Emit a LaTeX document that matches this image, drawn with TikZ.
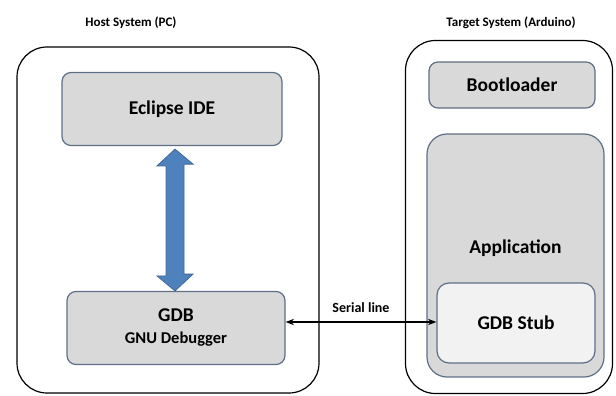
\documentclass[tikz,border=0pt]{standalone}
\usepackage{fontspec}
\setmainfont{Carlito}
\usetikzlibrary{positioning,arrows.meta}

\definecolor{boxgray}{HTML}{D9D9D9}
\definecolor{boxedge}{HTML}{5F6F85}
\definecolor{stubfill}{HTML}{F2F2F2}
\definecolor{arrowblue}{HTML}{4F81BD}
\definecolor{arrowedge}{HTML}{41689A}

\tikzset{
  system/.style={draw=black,line width=1.2pt,rounded corners=30pt,minimum width=#1},
  unit/.style={draw=boxedge,fill=boxgray,line width=1.2pt,rounded corners=9pt,font=\bfseries\fontsize{19.5}{22}\selectfont,align=center},
  title/.style={font=\bfseries\fontsize{13}{15}\selectfont}
}

\begin{document}
\begin{tikzpicture}[x=1pt,y=-1pt,>=Stealth,semithick]
  \useasboundingbox (0,0) rectangle (616,396);
  % host side
  \node[system=302pt,minimum height=346pt] (host) at (168,220) {};
  \node[title] (hosttitle) at (131,23) {Host System (PC)};
  \node[unit,minimum width=220pt,minimum height=73pt] (ide) at (172,109) {Eclipse IDE};
  \node[unit,minimum width=218pt,minimum height=73pt,inner sep=0pt] (gdb) at (176,328) {GDB\\[0pt]{\fontsize{16.5}{19}\selectfont GNU Debugger}};
  % target side
  \node[system=207pt,minimum height=353pt] (target) at (509,217) {};
  \node[title] (targettitle) at (511,23) {Target System (Arduino)};
  \node[unit,minimum width=166pt,minimum height=46pt] (boot) at (512,85) {Bootloader};
  \node[unit,minimum width=177pt,minimum height=243pt,rounded corners=20pt] (app) at (515.5,255.5) {};
  \node[font=\bfseries\fontsize{19.5}{22}\selectfont] (applabel) at (515.5,248) {Application};
  \node[unit,fill=stubfill,minimum width=158pt,minimum height=80pt,rounded corners=12pt] (stub) at (516,323) {GDB Stub};
  % links
  \coordinate (mid) at (175,0);
  \draw[draw=arrowedge,fill=arrowblue,line width=0.8pt]
    (mid |- ide.south) ++(0,3) -- ++(18,15) -- ++(-9,0) -- ++(0,110) -- ++(9,0)
    -- (mid |- gdb.north) -- ++(-18,-15) -- ++(9,0) -- ++(0,-110) -- ++(-9,0) -- cycle;
  \path[<->,line width=1.2pt]
    (gdb.east |- 0,322) edge node[above=5pt,font=\bfseries\fontsize{14}{16}\selectfont] (seriallabel) {Serial line} (stub.west |- 0,322);
\end{tikzpicture}
\end{document}
